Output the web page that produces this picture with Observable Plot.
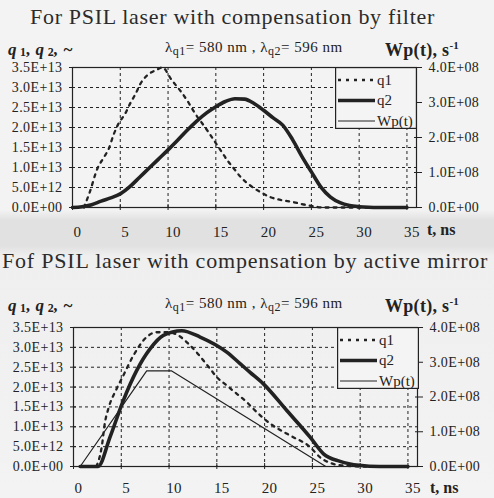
<!DOCTYPE html>
<html><head><meta charset="utf-8">
<script src="https://cdn.jsdelivr.net/npm/d3@7"></script>
<script src="https://cdn.jsdelivr.net/npm/@observablehq/plot@0.6"></script>
<style>
body{margin:0;background:#f2f2f2;}
#wrap{position:relative;width:494px;height:498px;overflow:hidden;
 background:linear-gradient(to bottom,#f3f3f3 0px,#f3f3f3 210px,#e1e1e1 220px,#e1e1e1 246px,#efefef 256px,#f3f3f3 498px);
 font-family:"Liberation Serif","DejaVu Serif",serif;color:#222;}
.abs{position:absolute;white-space:nowrap;line-height:1;}
.title{font-size:22px;letter-spacing:0.7px;color:#2b2b2b;}
.title2{font-size:22px;letter-spacing:0.8px;color:#2b2b2b;}
.ql{font-size:17px;font-weight:bold;font-style:italic;letter-spacing:0.3px;}
.ql sub{font-size:12px;vertical-align:-1px;font-style:normal;}
.lam{font-size:15px;letter-spacing:0.5px;}
.lam sub{font-size:12px;vertical-align:-3px;}
.wp{font-size:18px;font-weight:bold;letter-spacing:0.3px;}
.wp sup{font-size:11px;vertical-align:7px;}
.tns{font-size:16px;font-weight:bold;}
.plot{position:absolute;left:0;}
.legend{position:absolute;}
</style></head><body><div id="wrap"></div>
<script>
// ---- axes / ticks ----
const xTicks = [0, 5, 10, 15, 20, 25, 30, 35];
const yTicks = [0, 5e12, 1e13, 1.5e13, 2e13, 2.5e13, 3e13, 3.5e13];
const wpTicks = [0, 1e8, 2e8, 3e8, 4e8];
const yMax = 3.5e13;
const wpMax = 4e8;
const xMax = 36;

// ---- top panel: compensation by filter ----
const topQ1T = [1.2, 1.8, 2.6, 3.3, 3.8, 4.3, 4.8, 5.5, 6.1, 6.6, 7.1, 7.8, 8.8, 9.4, 10.4, 11.5, 12.2, 12.7, 14.1, 14.8, 15.5, 16.2, 16.9, 17.6, 18.6, 19.7, 20.7, 22.1, 23.2, 24.2, 25.2, 26.2, 35];
const topQ1 = [0, 3.8e12, 9.7e12, 12.6e12, 14.7e12, 18.2e12, 20.9e12, 23.4e12, 26.3e12, 28.4e12, 30.9e12, 33.0e12, 34.4e12, 35.0e12, 31.8e12, 28.5e12, 26.0e12, 24.0e12, 19.3e12, 16.8e12, 14.3e12, 11.8e12, 9.7e12, 7.6e12, 5.5e12, 3.8e12, 2.6e12, 1.75e12, 1.3e12, 0.75e12, 0.3e12, 0, 0];
const topQ2T = [0, 1, 2, 3, 4, 5, 6, 7, 8, 9, 10, 11, 12, 13, 14, 15, 16, 17, 18, 19, 20, 21, 22, 23, 24, 25, 26, 27, 28, 29, 30, 31, 32, 35];
const topQ2 = [0, 0.2e12, 0.7e12, 1.6e12, 2.4e12, 3.4e12, 5.2e12, 7.5e12, 9.8e12, 12.1e12, 14.4e12, 16.8e12, 19.3e12, 21.6e12, 23.6e12, 25.2e12, 26.5e12, 27.2e12, 27.1e12, 26.0e12, 24.3e12, 22.4e12, 20.6e12, 17.1e12, 12.8e12, 8.9e12, 5.1e12, 2.6e12, 1.2e12, 0.5e12, 0.2e12, 0.05e12, 0, 0];
const topWpT = [0, 35];
const topWp = [4e8, 4e8];

// ---- bottom panel: compensation by active mirror ----
const botQ1T = [2.4, 2.95, 3.3, 3.64, 4.52, 5.21, 6.26, 7.66, 8.71, 9.93, 10.97, 12.2, 14.3, 15.0, 16.04, 17.09, 18.14, 18.83, 20.58, 22.67, 24.76, 25.81, 26.86, 28.4, 30, 35];
const botQ1 = [0, 4.9e12, 11.2e12, 14.5e12, 19.6e12, 22.9e12, 27.9e12, 32.6e12, 33.8e12, 33.8e12, 33.0e12, 30.5e12, 24.6e12, 22.5e12, 20.4e12, 18.3e12, 16.2e12, 14.5e12, 10.8e12, 7.8e12, 4.9e12, 2.3e12, 0.9e12, 0.2e12, 0, 0];
const botQ2T = [0.7, 2.57, 3.82, 5.21, 6.62, 8.01, 9.4, 11.33, 13.25, 16.04, 17.43, 18.48, 19.87, 22.32, 24.76, 26.16, 27.9, 29.9, 32, 35];
const botQ2 = [0, 0, 7.4e12, 16.6e12, 24.2e12, 29.6e12, 33.0e12, 34.2e12, 32.6e12, 28.8e12, 25.9e12, 23.7e12, 20.8e12, 14.1e12, 7.4e12, 3.2e12, 1.3e12, 0.3e12, 0, 0];
const botWpT = [0.7, 7.66, 10.28, 26.4, 35];
const botWp = [0, 2.75e8, 2.75e8, 0, 0];

const INK = "#222";
const FONT = '"Liberation Serif", "DejaVu Serif", serif';

function sci(v) {
  if (Math.abs(v) < 1e-6) return "0.0E+00";
  let e = Math.floor(Math.log10(v));
  let m = v / Math.pow(10, e);
  if (Math.round(m * 10) / 10 >= 10) { m /= 10; e += 1; }
  if (Math.round(m * 10) / 10 < 1) { m *= 10; e -= 1; }
  return m.toFixed(1) + "E+" + String(e).padStart(2, "0");
}

function table(ts, vs, key) { return ts.map((t, i) => ({t, [key]: vs[i]})); }

function chart(o) {
  const K = yMax / wpMax;
  const q1 = table(o.q1T, o.q1, "v");
  const q2 = table(o.q2T, o.q2, "v");
  const wp = table(o.wpT, o.wp, "w");
  const wpPos = wpTicks.map(w => w * K);
  const grid = {stroke: INK, strokeOpacity: 1, strokeWidth: 1, strokeDasharray: "3,3"};
  return Plot.plot({
    width: 494, height: o.height,
    marginTop: o.mt, marginBottom: o.mb, marginLeft: o.ml, marginRight: o.mr,
    style: {background: "transparent", fontFamily: FONT, fontSize: "14px", color: INK, letterSpacing: "0.4px", overflow: "visible"},
    x: {domain: [0, xMax], label: null},
    y: {domain: [0, yMax], label: null},
    marks: [
      Plot.gridX(xTicks.slice(1), grid),
      Plot.gridY(yTicks.slice(1, -1), grid),
      Plot.line(wp, {x: "t", y: d => d.w * K, stroke: INK, strokeWidth: 1.2}),
      Plot.line(q1, {x: "t", y: "v", stroke: INK, strokeWidth: 2.3, strokeDasharray: "3,5", curve: "monotone-x"}),
      Plot.line(q2, {x: "t", y: "v", stroke: INK, strokeWidth: 3.6, curve: "monotone-x"}),
      Plot.frame({stroke: INK, strokeWidth: 1.2}),
      Plot.axisX(xTicks, {tickSize: 6, dy: -3, fill: "none", stroke: INK, label: null}),
      Plot.axisX(xTicks, {tickSize: 0, tickPadding: o.xPad, dx: 5, tickFormat: d => String(d), fill: INK, fontSize: 15, fontFamily: FONT, label: null}),
      Plot.axisY(yTicks, {tickSize: 6, dx: 3, fill: "none", stroke: INK, label: null}),
      Plot.axisY(yTicks, {tickSize: 0, tickPadding: 10, tickFormat: sci, fill: INK, fontSize: 14, fontFamily: FONT, label: null}),
      Plot.axisY(wpPos, {anchor: "right", tickSize: 8, dx: -3, fill: "none", stroke: INK, label: null}),
      Plot.axisY(wpPos, {anchor: "right", tickSize: 0, tickPadding: 12, textAnchor: "start", tickFormat: d => sci(d / K), fill: INK, fontSize: 14, fontFamily: FONT, label: null})
    ]
  });
}

function legend(left, top) {
  const w = 82, h = 62;
  const ns = "http://www.w3.org/2000/svg";
  const svg = document.createElementNS(ns, "svg");
  svg.setAttribute("width", w); svg.setAttribute("height", h);
  svg.setAttribute("class", "legend");
  svg.style.left = left + "px"; svg.style.top = top + "px";
  const rows = [
    {name: "q1", sw: 2.3, dash: "3,5"},
    {name: "q2", sw: 3.6, dash: null},
    {name: "Wp(t)", sw: 1.2, dash: null}
  ];
  const rect = document.createElementNS(ns, "rect");
  Object.entries({x: 0.6, y: 0.6, width: w - 1.2, height: h - 1.2, fill: "#f4f4f4", stroke: INK, "stroke-width": 1.2}).forEach(([k, v]) => rect.setAttribute(k, v));
  svg.appendChild(rect);
  rows.forEach((r, i) => {
    const y = 13 + i * 20.5;
    const ln = document.createElementNS(ns, "line");
    Object.entries({x1: 3, x2: 40, y1: y, y2: y, stroke: INK, "stroke-width": r.sw}).forEach(([k, v]) => ln.setAttribute(k, v));
    if (r.dash) ln.setAttribute("stroke-dasharray", r.dash);
    svg.appendChild(ln);
    const tx = document.createElementNS(ns, "text");
    tx.setAttribute("x", 42); tx.setAttribute("y", y + 4.5);
    tx.setAttribute("font-family", FONT); tx.setAttribute("font-size", 15); tx.setAttribute("fill", INK);
    tx.textContent = r.name;
    svg.appendChild(tx);
  });
  return svg;
}

const wrap = document.getElementById("wrap");
function addText(cls, html, left, top) {
  const d = document.createElement("div");
  d.className = "abs " + cls; d.innerHTML = html;
  d.style.left = left + "px"; d.style.top = top + "px";
  wrap.appendChild(d);
}

const top1 = chart({q1T: topQ1T, q1: topQ1, q2T: topQ2T, q2: topQ2, wpT: topWpT, wp: topWp,
  height: 250, mt: 67, mb: 43, ml: 72, mr: 78, xPad: 19});
top1.classList.add("plot"); top1.style.top = "0px";
wrap.appendChild(top1);

const bot1 = chart({q1T: botQ1T, q1: botQ1, q2T: botQ2T, q2: botQ2, wpT: botWpT, wp: botWp,
  height: 240, mt: 69, mb: 32, ml: 73, mr: 77, xPad: 16});
bot1.classList.add("plot"); bot1.style.top = "258px";
wrap.appendChild(bot1);

wrap.appendChild(legend(335, 67));
wrap.appendChild(legend(337, 327));

addText("title", "For PSIL laser with compensation by filter", 30, 6);
addText("ql", "q<sub> 1</sub>, q<sub> 2</sub>, ~", 8, 41);
addText("lam", "λ<sub>q1</sub>= 580 nm , λ<sub>q2</sub>= 596 nm", 165, 40);
addText("wp", "Wp(t), s<sup>-1</sup>", 385, 40);
addText("tns", "t, ns", 427, 222);

addText("title2", "Fof PSIL laser with compensation by active mirror", 2, 250);
addText("ql", "q<sub> 1</sub>, q<sub> 2</sub>, ~", 8, 297);
addText("lam", "λ<sub>q1</sub>= 580 nm , λ<sub>q2</sub>= 596 nm", 165, 296);
addText("wp", "Wp(t), s<sup>-1</sup>", 385, 296);
addText("tns", "t, ns", 430, 480);
</script></body></html>
